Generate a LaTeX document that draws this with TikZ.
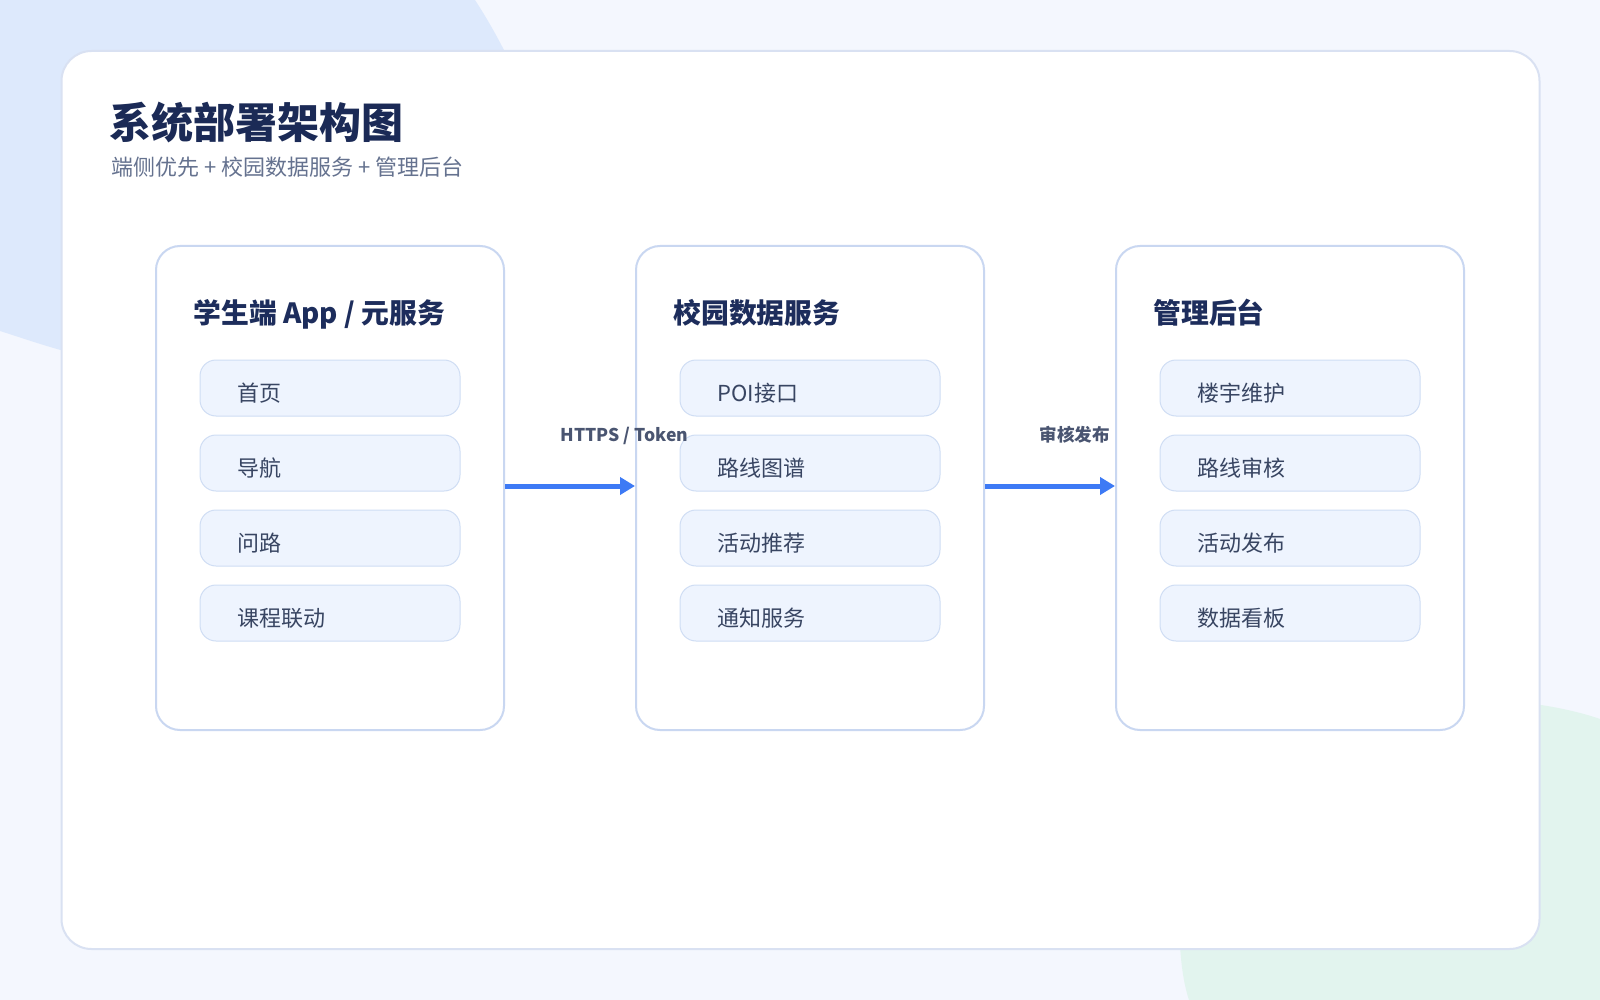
\documentclass[tikz,border=0pt]{standalone}
\usepackage{fontspec}
\setmainfont{Noto Sans CJK SC}
\usetikzlibrary{arrows.meta}
\definecolor{bgc}{HTML}{F4F7FE}
\definecolor{blobblue}{HTML}{DDE9FC}
\definecolor{blobgreen}{HTML}{E2F4EE}
\definecolor{panelline}{HTML}{D9E1F2}
\definecolor{cardline}{HTML}{C9D7F1}
\definecolor{itemfill}{HTML}{EEF4FE}
\definecolor{itemline}{HTML}{CFDDF4}
\definecolor{titlec}{HTML}{1B2A56}
\definecolor{cardtitlec}{HTML}{1D2D5C}
\definecolor{itemtextc}{HTML}{384562}
\definecolor{subc}{HTML}{65728F}
\definecolor{lblc}{HTML}{4A5571}
\definecolor{arrowc}{HTML}{3D7AF5}
\begin{document}
\begin{tikzpicture}[x=0.5pt,y=-0.5pt,
  panelbox/.style={draw=panelline,line width=1pt,fill=white,rounded corners=15pt,minimum width=739pt,minimum height=449pt,inner sep=0pt},
  cardbox/.style={draw=cardline,line width=1pt,fill=white,rounded corners=12pt,minimum width=174pt,minimum height=242pt,inner sep=0pt},
  itembox/.style={draw=itemline,line width=0.5pt,fill=itemfill,rounded corners=8pt,minimum width=130pt,minimum height=28pt,inner sep=0pt},
  txt/.style={inner sep=0pt,anchor=base west},
  titletxt/.style={txt,font=\fontsize{21pt}{24pt}\selectfont\bfseries,text=titlec},
  subtxt/.style={txt,font=\fontsize{11pt}{13pt}\selectfont,text=subc},
  cardtitle/.style={txt,font=\fontsize{13.9pt}{17pt}\selectfont\bfseries,text=cardtitlec},
  itemtxt/.style={txt,font=\fontsize{11pt}{13pt}\selectfont,text=itemtextc},
  lbltxt/.style={txt,font=\fontsize{8.8pt}{11pt}\selectfont\bfseries,text=lblc},
  conn/.style={draw=arrowc,line width=2.5pt,-{Triangle[length=7.5pt,width=8.5pt]}}
]
\useasboundingbox (0,0) rectangle (1600,1000);
\fill[bgc] (0,0) rectangle (1600,1000);
% background blobs
\fill[blobblue] (0,0) -- (475,0) .. controls (486,17) and (496,34) .. (508,58)
  -- (68,352) .. controls (45,346) and (22,338) .. (0,331) -- cycle;
\fill[blobgreen] (1600,1000) -- (1189,1000) .. controls (1184,985) and (1181,965) .. (1180,944)
  -- (1534,704) .. controls (1556,707) and (1580,712) .. (1600,719) -- cycle;
% main panel
\node[panelbox] (panel) at (800.5,500) {};
% title
\node[titletxt] (title) at (109,139) {系统部署架构图};
\node[subtxt] (subtitle) at (111,175.5) {端侧优先 + 校园数据服务 + 管理后台};
% cards
\node[cardbox] (c1) at (330,488) {};
\node[cardbox] (c2) at (810,488) {};
\node[cardbox] (c3) at (1290,488) {};
\node[cardtitle] (t1) at (193,323) {学生端 App / 元服务};
\node[cardtitle] (t2) at (673,323) {校园数据服务};
\node[cardtitle] (t3) at (1153,323) {管理后台};
% items
\foreach \cx/\cid in {330/a,810/b,1290/c}{
  \foreach \i/\yy in {1/388,2/463,3/538,4/613}{
    \node[itembox] (item\cid\i) at (\cx,\yy) {};
  }
}
\node[itemtxt] (ta1) at (237,401) {首页};
\node[itemtxt] (ta2) at (237,476) {导航};
\node[itemtxt] (ta3) at (237,551) {问路};
\node[itemtxt] (ta4) at (237,626) {课程联动};
\node[itemtxt] (tb1) at (717,401) {POI接口};
\node[itemtxt] (tb2) at (717,476) {路线图谱};
\node[itemtxt] (tb3) at (717,551) {活动推荐};
\node[itemtxt] (tb4) at (717,626) {通知服务};
\node[itemtxt] (tc1) at (1197,401) {楼宇维护};
\node[itemtxt] (tc2) at (1197,476) {路线审核};
\node[itemtxt] (tc3) at (1197,551) {活动发布};
\node[itemtxt] (tc4) at (1197,626) {数据看板};
% connectors
\draw[conn] ([yshift=1pt]c1.east) -- ([yshift=1pt]c2.west);
\draw[conn] ([yshift=1pt]c2.east) -- ([yshift=1pt]c3.west);
\node[lbltxt] (l1) at (560,441) {HTTPS / Token};
\node[lbltxt] (l2) at (1039,441) {审核发布};
\end{tikzpicture}
\end{document}
